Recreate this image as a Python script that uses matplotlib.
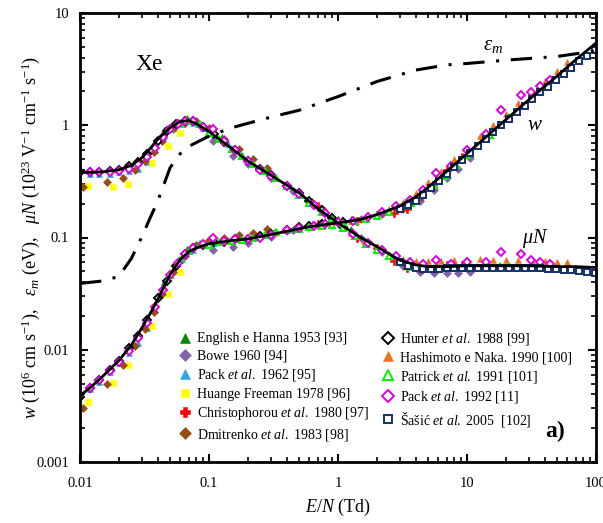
import matplotlib
matplotlib.use("Agg")
import matplotlib.pyplot as plt
from matplotlib.ticker import FixedLocator, FixedFormatter, LogLocator, NullFormatter

plt.rcParams["font.family"] = ["Liberation Serif", "DejaVu Serif"]
plt.rcParams["mathtext.fontset"] = "custom"
plt.rcParams["mathtext.rm"] = "Liberation Serif"
plt.rcParams["mathtext.it"] = "Liberation Serif:italic"
plt.rcParams["mathtext.bf"] = "Liberation Serif:bold"

# ----- calculated curves
line_en = [0.01, 0.012, 0.015, 0.02, 0.025, 0.03, 0.035, 0.04, 0.05, 0.06, 0.07, 0.08,
           0.1, 0.15, 0.2, 0.3, 0.5, 0.7, 1, 1.5, 2, 3, 4, 5, 7, 10, 15, 20, 30, 50, 70, 100]
line_mun = [0.38, 0.38, 0.385, 0.40, 0.44, 0.51, 0.62, 0.75, 0.95, 1.08, 1.1, 1.03,
            0.88, 0.62, 0.48, 0.36, 0.25, 0.18, 0.135, 0.1, 0.083, 0.063, 0.057, 0.055,
            0.055, 0.056, 0.056, 0.056, 0.056, 0.055, 0.055, 0.054]
line_w = [0.0039, 0.0046, 0.0058, 0.008, 0.011, 0.0155, 0.021, 0.028, 0.047, 0.064, 0.075,
          0.081, 0.088, 0.094, 0.097, 0.106, 0.12, 0.128, 0.135, 0.145, 0.16, 0.19, 0.23,
          0.28, 0.39, 0.56, 0.84, 1.12, 1.68, 2.75, 3.85, 5.4]
eps_en = [0.01, 0.015, 0.02, 0.025, 0.03, 0.035, 0.04, 0.05, 0.06, 0.07, 0.1, 0.15, 0.2,
          0.3, 0.5, 1, 2, 4, 7, 10, 20, 50, 100]
eps_m = [0.039, 0.041, 0.045, 0.065, 0.1, 0.15, 0.21, 0.42, 0.56, 0.65, 0.8, 0.95, 1.04,
         1.18, 1.36, 1.8, 2.45, 3.1, 3.45, 3.55, 3.8, 4.1, 4.6]

# ----- measured data sets
english_en = [0.045, 0.055, 0.068, 0.08, 0.1, 0.125, 0.16, 0.2, 0.25, 0.32, 0.4, 0.5, 0.63, 0.8, 1.0, 1.25]
english_mun = [0.9, 1.05, 1.15, 1.08, 0.92, 0.78, 0.62, 0.5, 0.42, 0.35, 0.3, 0.255, 0.21, 0.175, 0.145, 0.118]
english_w = [0.0405, 0.0578, 0.0782, 0.0864, 0.092, 0.0975, 0.0992, 0.1, 0.105, 0.112, 0.12, 0.1275, 0.1323, 0.14, 0.145, 0.1475]

bowe_en = [0.107, 0.154, 0.2, 0.3, 0.45, 0.65, 1.0, 1.5, 2.2, 3.2, 4.3, 5.5, 7, 8.5, 10.5]
bowe_mun = [0.72, 0.53, 0.45, 0.34, 0.26, 0.2, 0.135, 0.098, 0.074, 0.056, 0.049, 0.048, 0.048, 0.048, 0.049]
bowe_w = [0.077, 0.0816, 0.09, 0.102, 0.117, 0.13, 0.135, 0.147, 0.163, 0.179, 0.211, 0.264, 0.336, 0.408, 0.515]

pack62_en = [0.012, 0.014, 0.017, 0.02, 0.024, 0.028, 0.033, 0.038, 0.045, 0.053, 0.062, 0.075, 0.09, 0.11, 0.14, 0.18, 0.24, 0.3]
pack62_mun = [0.37, 0.37, 0.37, 0.38, 0.39, 0.41, 0.47, 0.6, 0.8, 0.95, 1.03, 1.04, 0.95, 0.82, 0.68, 0.54, 0.42, 0.36]
pack62_w = [0.00444, 0.00518, 0.00629, 0.0076, 0.00936, 0.01148, 0.0155, 0.0228, 0.036, 0.0504, 0.0639, 0.078, 0.0855, 0.0902, 0.0952, 0.0972, 0.1008, 0.108]

huang_en = [0.0115, 0.018, 0.0236, 0.036, 0.048, 0.06]
huang_mun = [0.29, 0.28, 0.3, 0.46, 0.66, 0.85]
huang_w = [0.0034, 0.0051, 0.0073, 0.0163, 0.0317, 0.049]

christ_en = [0.5, 0.7, 1.0, 1.4, 2.0, 2.7, 3.4, 4.5, 5.7, 7, 9.1]
christ_mun = [0.25, 0.19, 0.137, 0.1, 0.08, 0.062, 0.053, 0.052, 0.055, 0.057, 0.057]
christ_w = [0.125, 0.133, 0.137, 0.14, 0.16, 0.167, 0.18, 0.234, 0.31, 0.4, 0.52]

dmit_en = [0.0106, 0.0162, 0.0215, 0.0267, 0.032, 0.0375, 0.043, 0.053, 0.065, 0.08, 0.1, 0.13, 0.17, 0.22, 0.28]
dmit_mun = [0.28, 0.31, 0.34, 0.4, 0.48, 0.58, 0.73, 0.93, 1.05, 1.08, 0.95, 0.76, 0.62, 0.5, 0.42]
dmit_w = [0.003, 0.005, 0.0073, 0.0107, 0.0154, 0.0218, 0.0314, 0.0493, 0.068, 0.0864, 0.095, 0.0988, 0.105, 0.11, 0.118]

hunter_en = [0.01, 0.012, 0.014, 0.017, 0.02, 0.024, 0.028, 0.033, 0.04, 0.047, 0.055, 0.065, 0.075,
             0.09, 0.11, 0.13, 0.16, 0.2, 0.25, 0.3, 0.4, 0.5, 0.6, 0.75, 0.9, 1.1]
hunter_mun = [0.38, 0.38, 0.385, 0.39, 0.40, 0.43, 0.47, 0.56, 0.73, 0.88, 1.02, 1.1, 1.08,
              0.96, 0.83, 0.71, 0.6, 0.48, 0.41, 0.36, 0.29, 0.25, 0.21, 0.175, 0.15, 0.125]
hunter_w = [0.0038, 0.0046, 0.0054, 0.0066, 0.008, 0.0103, 0.0132, 0.0185, 0.029, 0.041, 0.056, 0.0715, 0.081,
            0.0864, 0.091, 0.092, 0.096, 0.096, 0.1025, 0.108, 0.116, 0.125, 0.126, 0.131, 0.135, 0.138]

hashi_en = [0.1, 0.13, 0.16, 0.2, 0.25, 0.32, 0.4, 0.5, 0.63, 0.8, 1.0, 1.26, 1.6, 2.0, 2.5, 3.2, 4.0,
            5.0, 6.3, 8, 10, 12.6, 16, 20, 25, 32, 40, 50, 60]
hashi_mun = [0.9, 0.72, 0.6, 0.49, 0.41, 0.34, 0.29, 0.25, 0.205, 0.17, 0.14, 0.11, 0.094, 0.082, 0.072,
             0.065, 0.062, 0.062, 0.062, 0.063, 0.063, 0.064, 0.063, 0.063, 0.063, 0.062, 0.062, 0.061, 0.061]
hashi_w = [0.09, 0.0936, 0.096, 0.098, 0.1025, 0.109, 0.116, 0.125, 0.129, 0.136, 0.14, 0.139, 0.15, 0.164,
           0.18, 0.208, 0.248, 0.31, 0.39, 0.504, 0.63, 0.806, 1.008, 1.26, 1.575, 1.984, 2.48, 3.05, 3.66]

patrick_en = [0.05, 0.06, 0.07, 0.085, 0.1, 0.12, 0.15, 0.18, 0.22, 0.27, 0.33, 0.4, 0.5, 0.6, 0.75, 0.9,
              1.1, 1.35, 1.65, 2, 2.5, 3, 3.7, 4.5, 5.5, 6.7, 8.2, 10, 12, 15, 18, 21]
patrick_mun = [0.92, 1.04, 1.08, 1.02, 0.86, 0.76, 0.62, 0.53, 0.45, 0.39, 0.34, 0.29, 0.24, 0.205, 0.17,
               0.145, 0.122, 0.103, 0.088, 0.077, 0.068, 0.061, 0.055, 0.053, 0.053, 0.053, 0.054, 0.054,
               0.055, 0.055, 0.056, 0.056]
patrick_w = [0.046, 0.0624, 0.0756, 0.0867, 0.086, 0.0912, 0.093, 0.0954, 0.099, 0.1053, 0.1122, 0.116,
             0.12, 0.123, 0.1275, 0.1305, 0.1342, 0.139, 0.145, 0.154, 0.17, 0.183, 0.2035, 0.2385, 0.2915,
             0.355, 0.443, 0.54, 0.66, 0.825, 1.008, 1.176]

pack92_en = [0.012, 0.014, 0.017, 0.02, 0.024, 0.028, 0.033, 0.038, 0.044, 0.05, 0.057, 0.065, 0.075, 0.09,
             0.107, 0.13, 0.16, 0.2, 0.25, 0.3, 0.4, 0.5, 0.65, 0.8, 1.0, 1.3, 1.7, 2.2, 2.8, 3.6, 4.6, 5.8,
             7.5, 10, 14, 18.5, 26, 31.5, 37, 44]
pack92_mun = [0.38, 0.385, 0.385, 0.39, 0.41, 0.45, 0.52, 0.63, 0.78, 0.92, 1.03, 1.09, 1.08, 0.97, 0.93,
              0.72, 0.6, 0.48, 0.4, 0.35, 0.29, 0.245, 0.195, 0.165, 0.138, 0.108, 0.09, 0.077, 0.068, 0.06,
              0.058, 0.063, 0.058, 0.06, 0.06, 0.074, 0.071, 0.063, 0.06, 0.058]
pack92_w = [0.0046, 0.0054, 0.0065, 0.0078, 0.0098, 0.0126, 0.0172, 0.024, 0.0343, 0.046, 0.0587, 0.0709,
            0.081, 0.0873, 0.1, 0.0936, 0.096, 0.096, 0.1, 0.105, 0.116, 0.1225, 0.127, 0.132, 0.138, 0.14,
            0.153, 0.17, 0.19, 0.216, 0.267, 0.376, 0.435, 0.6, 0.84, 1.37, 1.85, 1.98, 2.22, 2.55]

sasic_en = [3, 3.5, 4, 4.6, 5.3, 6.1, 7, 8, 9.2, 10.6, 12.2, 14, 16, 18.5, 21, 24.5, 28, 32, 37, 42.5,
            49, 56, 64, 74, 85, 98]
sasic_mun = [0.06, 0.056, 0.053, 0.052, 0.052, 0.052, 0.053, 0.053, 0.053, 0.053, 0.054, 0.054, 0.054,
             0.054, 0.054, 0.054, 0.053, 0.053, 0.053, 0.052, 0.052, 0.051, 0.051, 0.05, 0.049, 0.048]
sasic_w = [0.18, 0.196, 0.212, 0.239, 0.276, 0.317, 0.371, 0.424, 0.488, 0.562, 0.659, 0.756, 0.864, 0.999,
           1.134, 1.323, 1.484, 1.696, 1.961, 2.21, 2.548, 2.856, 3.264, 3.7, 4.165, 4.704]

datasets = [
    (r"English e Hanna 1953 [93]", english_en, english_mun, english_w, "^", "#008a00", True),
    (r"Bowe 1960 [94]", bowe_en, bowe_mun, bowe_w, "D", "#7f62a8", True),
    (r"Pack $\it{et\ al.}$ 1962 [95]", pack62_en, pack62_mun, pack62_w, "^", "#2aa8e6", True),
    (r"Huange Freeman 1978 [96]", huang_en, huang_mun, huang_w, "s", "#ffff00", True),
    (r"Christophorou $\it{et\ al.}$ 1980 [97]", christ_en, christ_mun, christ_w, "P", "#ff0000", True),
    (r"Dmitrenko $\it{et\ al.}$ 1983 [98]", dmit_en, dmit_mun, dmit_w, "D", "#9a4a12", True),
    (r"Hunter $\it{et\ al.}$ 1988 [99]", hunter_en, hunter_mun, hunter_w, "D", "#000000", False),
    (r"Hashimoto e Naka. 1990 [100]", hashi_en, hashi_mun, hashi_w, "^", "#f07018", True),
    (r"Patrick $\it{et\ al.}$ 1991 [101]", patrick_en, patrick_mun, patrick_w, "^", "#00f000", False),
    (r"Pack $\it{et\ al.}$ 1992 [11]", pack92_en, pack92_mun, pack92_w, "D", "#e000e0", False),
    (r"Šašić $\it{et\ al.}$ 2005  [102]", sasic_en, sasic_mun, sasic_w, "s", "#12306a", False),
]

fig = plt.figure(figsize=(6.03, 5.23), dpi=100)
ax = fig.add_axes([80 / 603, 1 - 462 / 523, 516 / 603, 449 / 523])

for label, en, mun, w, mk, col, filled in datasets:
    ms = {"D": 4.3, "^": 5.0, "s": 4.5, "P": 5.5}[mk]
    kw = dict(linestyle="none", marker=mk, markersize=ms)
    if filled:
        kw.update(color=col, markeredgecolor=col, markeredgewidth=0.4)
    else:
        kw.update(color=col, markerfacecolor="white", markeredgecolor=col, markeredgewidth=1.4)
    ax.plot(en, mun, label=label, **kw)
    ax.plot(en, w, **kw)

ax.plot(line_en, line_mun, color="black", lw=2.0, zorder=5)
ax.plot(line_en, line_w, color="black", lw=2.0, zorder=5)
ax.plot(eps_en, eps_m, color="black", lw=2.2, linestyle=(0, (7, 3.8, 1, 3.8)), zorder=5)

ax.set_xscale("log")
ax.set_yscale("log")
ax.set_xlim(0.01, 100)
ax.set_ylim(0.001, 10)

ax.xaxis.set_major_locator(FixedLocator([0.01, 0.1, 1, 10, 100]))
ax.xaxis.set_major_formatter(FixedFormatter(["0.01", "0.1", "1", "10", "100"]))
ax.yaxis.set_major_locator(FixedLocator([0.001, 0.01, 0.1, 1, 10]))
ax.yaxis.set_major_formatter(FixedFormatter(["0.001", "0.01", "0.1", "1", "10"]))
for axis in (ax.xaxis, ax.yaxis):
    axis.set_minor_locator(LogLocator(base=10, subs=range(2, 10), numticks=20))
    axis.set_minor_formatter(NullFormatter())

ax.tick_params(which="both", direction="in", top=True, right=True, labelsize=10.5)
ax.tick_params(axis="x", pad=11)
ax.tick_params(axis="y", pad=8)
ax.tick_params(which="major", length=6, width=1.5)
ax.tick_params(which="minor", length=3.5, width=1.2)
for s in ax.spines.values():
    s.set_linewidth(2.0)

ax.set_xlabel(r"$E/N$ (Td)", fontsize=13, labelpad=5)
ax.set_ylabel(r"$w$ (10$^6$ cm s$^{-1}$),   $\varepsilon_m$ (eV),   $\mu N$ (10$^{23}$ V$^{-1}$ cm$^{-1}$ s$^{-1}$)",
              fontsize=13, labelpad=-4)

ax.text(0.135, 0.885, "Xe", transform=ax.transAxes, fontsize=17, ha="center", va="center")
ax.text(0.80, 0.928, r"$\varepsilon_m$", transform=ax.transAxes, fontsize=15, ha="center", va="center")
ax.text(0.882, 0.750, r"$w$", transform=ax.transAxes, fontsize=15, ha="center", va="center")
ax.text(0.882, 0.497, r"$\mu N$", transform=ax.transAxes, fontsize=14.5, ha="center", va="center")
ax.text(0.920, 0.067, "a)", transform=ax.transAxes, fontsize=17, fontweight="bold", ha="center", va="center")

ax.legend(loc="upper left", bbox_to_anchor=(0.193, 0.292), ncol=2, frameon=False, fontsize=10,
          handlelength=0.8, handletextpad=0.45, columnspacing=1.0, labelspacing=0.32,
          borderaxespad=0, borderpad=0, markerscale=1.35)

fig.savefig("out.png", dpi=100)
